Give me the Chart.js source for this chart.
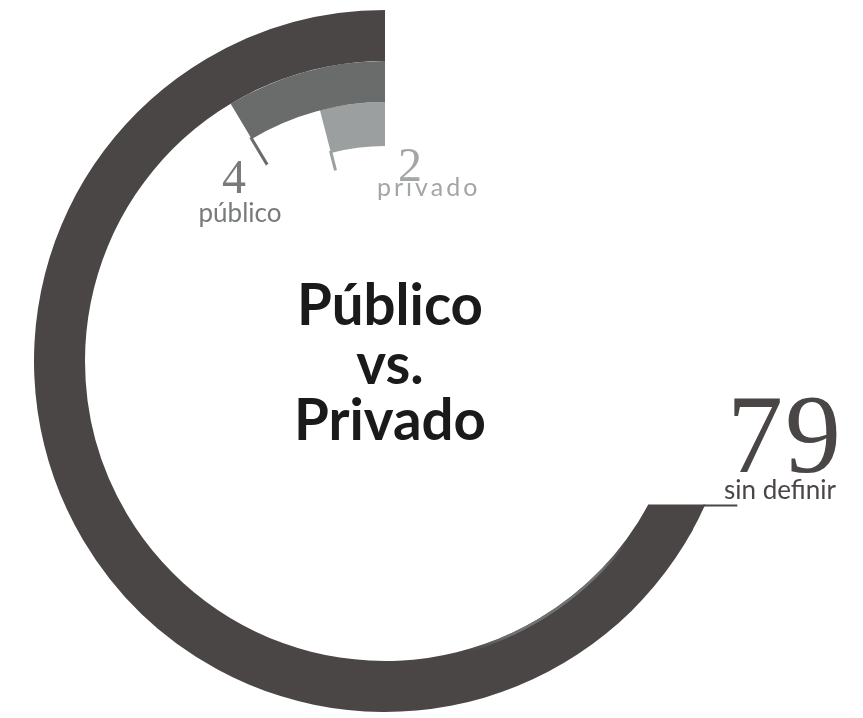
<!DOCTYPE html>
<html>
<head>
<meta charset="utf-8">
<script src="https://cdn.jsdelivr.net/npm/chart.js@4.4.1/dist/chart.umd.min.js"></script>
<style>
  html, body { margin: 0; padding: 0; background: #fff; }
  #wrap { width: 863px; height: 718px; position: relative; }
</style>
</head>
<body>
<div id="wrap"><canvas id="rings"></canvas></div>
<script>
"use strict";

// outer ring first, as Chart.js stacks doughnut datasets from the outside in
var categories = ["sin definir", "público", "privado"];
var values = [79, 4, 2];
// what one full turn of each ring stands for
var ringTotals = [117.8, 46.5, 49.5];
var titleLines = ["Público", "vs.", "Privado"];

var ringColors = ["#4a4645", "#6a6b6b", "#9c9f9f"];
var labelColors = ["#4a4645", "#797a7a", "#a3a6a6"];
var ringWeights = [51, 41, 44];

// labels, tick marks and the title drawn on top of the rings
var ringLabels = {
    id: "ringLabels",
    afterDatasetsDraw: function (chart) {
        var ctx = chart.ctx;
        ctx.save();

        var a0 = chart.getDatasetMeta(0).data[1];
        var ro = a0.outerRadius, ri = a0.innerRadius;

        // faint grey bevel along the inside of the big ring
        var b1 = 0.64, b2 = 1.30;
        var grad = ctx.createLinearGradient(
            a0.x + ri * Math.cos(b1), a0.y + ri * Math.sin(b1),
            a0.x + ri * Math.cos(b2), a0.y + ri * Math.sin(b2));
        grad.addColorStop(0, "rgba(112,115,115,0)");
        grad.addColorStop(0.2, "rgba(112,115,115,1)");
        grad.addColorStop(0.75, "rgba(112,115,115,1)");
        grad.addColorStop(1, "rgba(112,115,115,0)");
        ctx.strokeStyle = grad;
        ctx.lineWidth = 2.5;
        ctx.beginPath();
        ctx.arc(a0.x, a0.y, ri + 1.4, b1, b2);
        ctx.stroke();

        // big ring ends in a flat cut, with a short horizontal leader;
        // the patch overlaps the ring a little so no seam shows
        var ang = a0.startAngle;
        var over = ang + 0.02;
        var iy = a0.y + ri * Math.sin(ang);
        var ixc = a0.x + ri * Math.cos(ang);
        var dy = iy - a0.y;
        var ox = a0.x + Math.sqrt(ro * ro - dy * dy);
        var phi = Math.atan2(dy, ox - a0.x);
        ctx.fillStyle = ringColors[0];
        ctx.beginPath();
        ctx.moveTo(ixc, iy);
        ctx.lineTo(ox, iy);
        ctx.arc(a0.x, a0.y, ro, phi, over, false);
        ctx.lineTo(a0.x + ri * Math.cos(over), a0.y + ri * Math.sin(over));
        ctx.arc(a0.x, a0.y, ri, over, ang, true);
        ctx.closePath();
        ctx.fill();
        ctx.strokeStyle = ringColors[0];
        ctx.lineWidth = 2;
        ctx.beginPath();
        ctx.moveTo(ox - 2, iy + 1);
        ctx.lineTo(ox + 32, iy + 1);
        ctx.stroke();

        // inner rings: tick continuing the end edge towards the centre
        var tickReach = [0, 30, 18];
        for (var i = 1; i < 3; i++) {
            var a = chart.getDatasetMeta(i).data[1];
            var c = Math.cos(a.startAngle), s = Math.sin(a.startAngle);
            ctx.strokeStyle = ringColors[i];
            ctx.lineWidth = 3;
            ctx.beginPath();
            ctx.moveTo(a.x + (a.innerRadius + 2) * c, a.y + (a.innerRadius + 2) * s);
            ctx.lineTo(a.x + (a.innerRadius - tickReach[i]) * c, a.y + (a.innerRadius - tickReach[i]) * s);
            ctx.stroke();
        }

        ctx.textBaseline = "alphabetic";

        // 79 sin definir
        ctx.fillStyle = labelColors[0];
        ctx.textAlign = "left";
        ctx.font = "112px 'Liberation Serif'";
        ctx.letterSpacing = "2px";
        ctx.fillText(String(values[0]), 727, 472);
        ctx.letterSpacing = "0px";
        ctx.font = "26px Lato";
        ctx.fillText(categories[0], 724, 499);

        // 4 público
        ctx.fillStyle = labelColors[1];
        ctx.textAlign = "center";
        ctx.font = "48px 'Liberation Serif'";
        ctx.fillText(String(values[1]), 234, 193);
        ctx.font = "26px Lato";
        ctx.fillText(categories[1], 240, 222);

        // 2 privado
        ctx.fillStyle = labelColors[2];
        ctx.textAlign = "left";
        ctx.font = "48px 'Liberation Serif'";
        ctx.fillText(String(values[2]), 398, 181);
        ctx.font = "25px Lato";
        ctx.letterSpacing = "3px";
        ctx.fillText(categories[2], 377, 196);
        ctx.letterSpacing = "0px";

        // centre title
        ctx.fillStyle = "#1b1a1a";
        ctx.textAlign = "center";
        ctx.font = "bold 58px Lato";
        var k = Math.min(1, 186 / ctx.measureText(titleLines[0]).width);
        var baselines = [325, 384, 440];
        titleLines.forEach(function (line, j) {
            ctx.save();
            ctx.translate(390, baselines[j]);
            ctx.scale(k, 1);
            ctx.fillText(line, 0, 0);
            ctx.restore();
        });

        ctx.restore();
    }
};

var datasets = categories.map(function (name, i) {
    return {
        label: name,
        // transparent remainder first, so the value runs anticlockwise from the top
        data: [ringTotals[i] - values[i], values[i]],
        backgroundColor: ["rgba(0,0,0,0)", ringColors[i]],
        borderWidth: 0,
        hoverOffset: 0,
        weight: ringWeights[i]
    };
});

var ctx = document.getElementById("rings");
var myChart = new Chart(ctx, {
    type: "doughnut",
    data: {
        labels: ["resto", "valor"],
        datasets: datasets
    },
    options: {
        responsive: true,
        maintainAspectRatio: false,
        animation: false,
        events: [],
        cutout: 215,
        layout: { padding: { left: 34, right: 127, top: 10, bottom: 6 } },
        plugins: {
            legend: { display: false },
            tooltip: { enabled: false },
            title: { display: false }
        }
    },
    plugins: [ringLabels]
});
</script>
</body>
</html>
